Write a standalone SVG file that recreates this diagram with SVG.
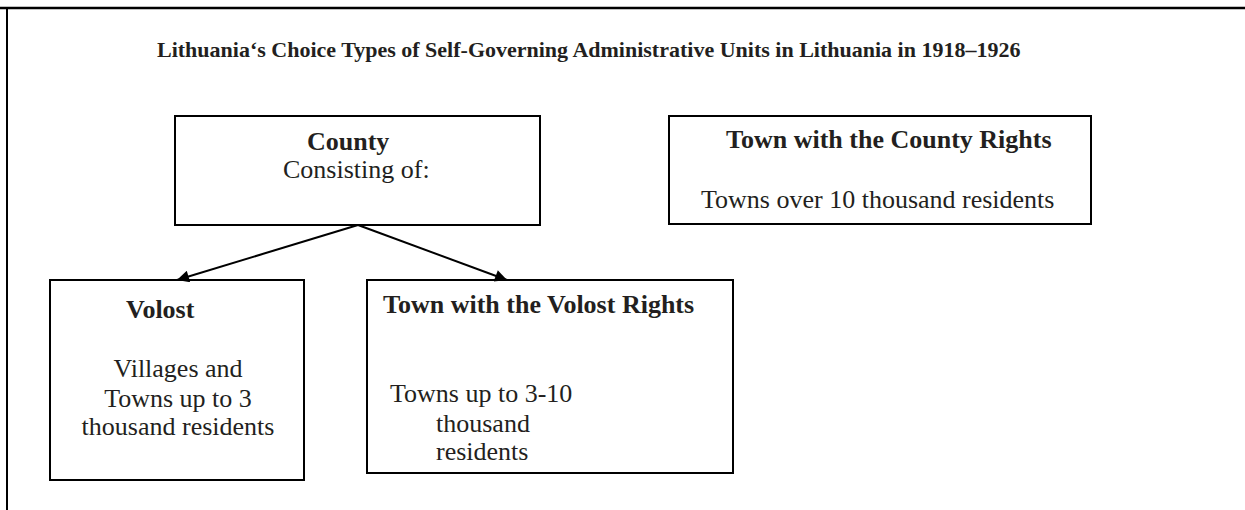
<svg xmlns="http://www.w3.org/2000/svg" width="1245" height="510" viewBox="0 0 1245 510">
<style>
.box{fill:#fff;stroke:#000;stroke-width:2}
.frame{stroke:#000;fill:none}
text{font-family:"Liberation Serif","Times New Roman",serif;fill:#231f20}
.b{font-weight:bold;font-size:26px}
.r{font-size:26px}
.title{font-weight:bold;font-size:22px}
.conn{stroke:#000;stroke-width:2;fill:none}
</style>
<defs>
<marker id="arr" viewBox="0 0 10 10" refX="10" refY="5" markerWidth="8" markerHeight="6" markerUnits="strokeWidth" orient="auto">
<path d="M0,0 L10,5 L0,10 z" fill="#000"/>
</marker>
</defs>
<rect width="1245" height="510" fill="#fff"/>
<g id="frame">
<line class="frame" x1="0" y1="8" x2="1245" y2="8" stroke-width="2.5"/>
<line class="frame" x1="7" y1="8" x2="7" y2="510" stroke-width="2"/>
</g>
<g id="title">
<text class="title" x="157" y="57">Lithuania‘s Choice Types of Self-Governing Administrative Units in Lithuania in 1918–1926</text>
</g>
<g id="county">
<rect class="box" x="175" y="116" width="365" height="109"/>
<text class="b" x="307" y="150">County</text>
<text class="r" x="283" y="178">Consisting of:</text>
</g>
<g id="town-county">
<rect class="box" x="669" y="116" width="422" height="108"/>
<text class="b" x="726" y="148">Town with the County Rights</text>
<text class="r" x="701" y="208">Towns over 10 thousand residents</text>
</g>
<g id="volost">
<rect class="box" x="50" y="280" width="254" height="200"/>
<text class="b" x="126" y="318">Volost</text>
<text class="r" x="178" y="377" text-anchor="middle">Villages and</text>
<text class="r" x="178" y="407" text-anchor="middle">Towns up to 3</text>
<text class="r" x="178" y="435" text-anchor="middle">thousand residents</text>
</g>
<g id="town-volost">
<rect class="box" x="367" y="280" width="366" height="193"/>
<text class="b" x="383" y="313">Town with the Volost Rights</text>
<text class="r" x="390" y="402">Towns up to 3-10</text>
<text class="r" x="436" y="432">thousand</text>
<text class="r" x="436" y="460">residents</text>
</g>
<g id="connectors">
<line class="conn" x1="358" y1="225" x2="177" y2="280" marker-end="url(#arr)"/>
<line class="conn" x1="358" y1="225" x2="507" y2="280" marker-end="url(#arr)"/>
</g>
</svg>
